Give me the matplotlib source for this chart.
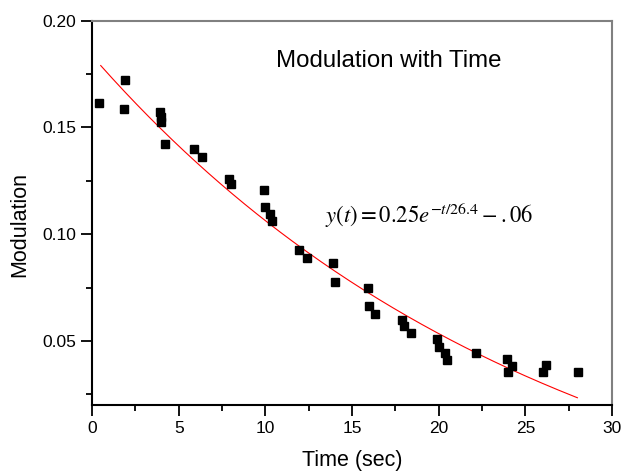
import numpy as np
import matplotlib
matplotlib.use('Agg')
import matplotlib.pyplot as plt
from matplotlib.ticker import MultipleLocator

# measured points (time in sec, modulation)
t_data = [0.4, 1.9, 1.85, 3.9, 3.95, 4.0, 4.2, 5.9, 6.35, 7.9, 8.0,
          9.9, 10.0, 10.25, 10.4, 11.95, 12.4, 13.9, 14.0, 15.9, 16.0,
          16.3, 17.9, 18.0, 18.4, 19.9, 20.0, 20.35, 20.5, 22.15, 23.95,
          24.2, 24.0, 26.2, 26.0, 28.05]
m_data = [0.1613, 0.1722, 0.1588, 0.1574, 0.1551, 0.1524, 0.1423, 0.1398,
          0.1364, 0.1259, 0.1234, 0.1208, 0.1127, 0.1094, 0.1063, 0.0924,
          0.0891, 0.0865, 0.0777, 0.0748, 0.0662, 0.0627, 0.0599, 0.0568,
          0.0537, 0.0509, 0.0474, 0.0443, 0.0412, 0.0444, 0.0415, 0.0385,
          0.0353, 0.0389, 0.0354, 0.0357]

# fitted curve as drawn
fit_amp = 0.245
fit_tau = 26.4
fit_off = -0.0614
fit_start, fit_end = 0.5, 28.0

plt.rcParams['font.family'] = ['Liberation Sans', 'DejaVu Sans']
plt.rcParams['mathtext.fontset'] = 'stix'

fig = plt.figure(figsize=(6.22, 4.71), dpi=100)
ax = fig.add_axes([0.148, 0.140, 0.836, 0.816])

tt = np.linspace(fit_start, fit_end, 200)
ax.plot(tt, fit_amp * np.exp(-tt / fit_tau) + fit_off, color='red', lw=0.8)
ax.plot(t_data, m_data, 's', color='black', ms=5.8, mec='black')

ax.set_xlim(0, 30)
ax.set_ylim(0.02, 0.20)
ax.xaxis.set_major_locator(MultipleLocator(5))
ax.xaxis.set_minor_locator(MultipleLocator(2.5))
ax.yaxis.set_major_locator(MultipleLocator(0.05))
ax.yaxis.set_minor_locator(MultipleLocator(0.025))
ax.yaxis.set_major_formatter(matplotlib.ticker.FormatStrFormatter('%.2f'))
ax.tick_params(which='major', direction='out', length=8, width=1.3, labelsize=12.5)
ax.tick_params(which='minor', direction='out', length=4, width=1.3)

for s in ['left', 'bottom']:
    ax.spines[s].set_linewidth(1.5)
    ax.spines[s].set_color('black')
for s in ['top', 'right']:
    ax.spines[s].set_linewidth(1.5)
    ax.spines[s].set_color('#808080')

ax.set_xlabel('Time (sec)', fontsize=15.5, labelpad=10)
ax.set_ylabel('Modulation', fontsize=15.5)
ax.yaxis.set_label_coords(-0.119, 0.47)

ax.text(0.570, 0.895, 'Modulation with Time', transform=ax.transAxes,
        ha='center', va='center', fontsize=17.3)
ax.text(0.648, 0.494, r'$y(t) = 0.25e^{-t/26.4} - .06$', transform=ax.transAxes,
        ha='center', va='center', fontsize=16.3)

fig.savefig('out.png', dpi=100)
